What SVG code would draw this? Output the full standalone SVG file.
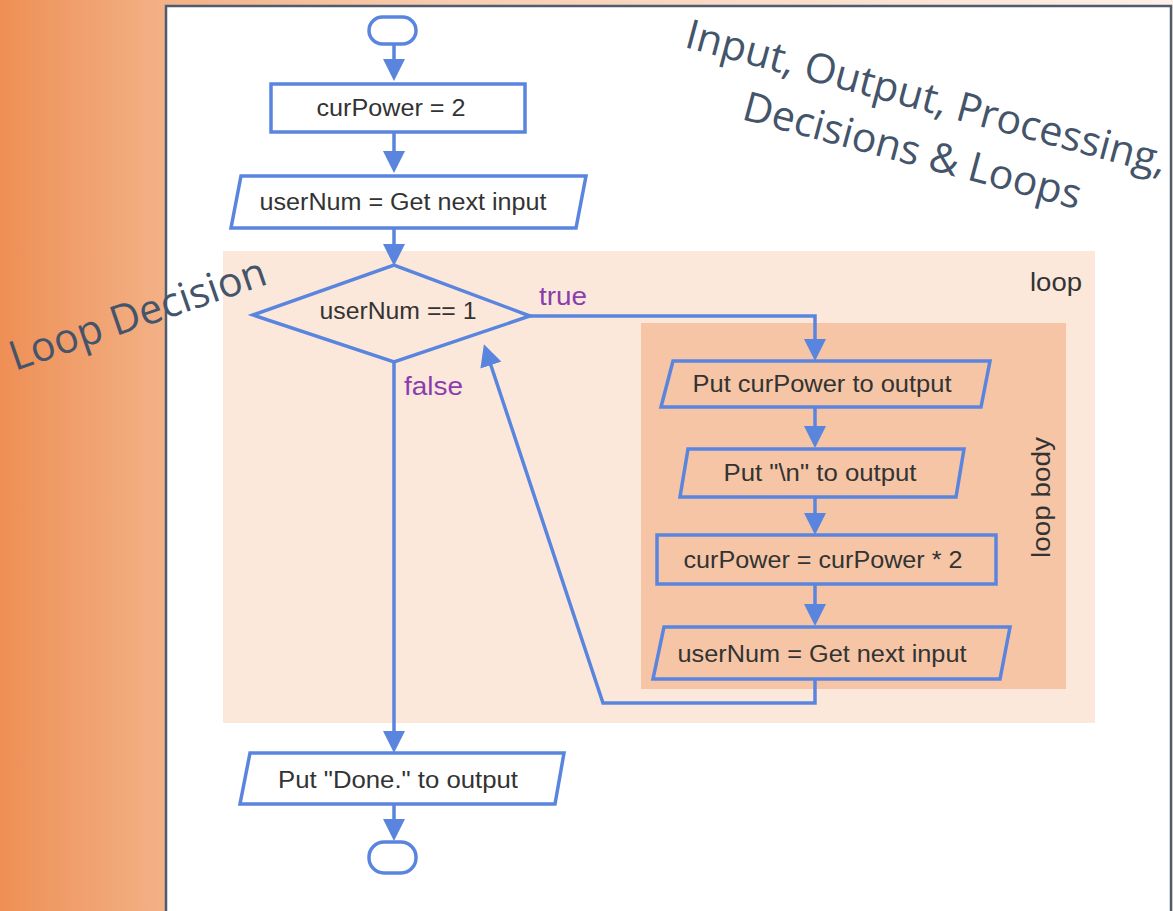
<svg xmlns="http://www.w3.org/2000/svg" width="1173" height="911" viewBox="0 0 1173 911">
  <defs>
    <linearGradient id="bg" x1="0" y1="0" x2="1" y2="0">
      <stop offset="0" stop-color="#EE8F55"/>
      <stop offset="0.14" stop-color="#F3B186"/>
      <stop offset="0.38" stop-color="#F8CDAF"/>
      <stop offset="1" stop-color="#FDF0E8"/>
    </linearGradient>
    <marker id="arrow" viewBox="0 0 22 22" refX="17" refY="11" markerWidth="22" markerHeight="22" markerUnits="userSpaceOnUse" orient="auto">
      <path d="M0,0 L22,11 L0,22 Z" fill="#5A85DF"/>
    </marker>
    <style>
      .shape { fill: none; stroke: #5A85DF; stroke-width: 3.5; stroke-linejoin: miter; }
      .edge { fill: none; stroke: #5A85DF; stroke-width: 3.5; marker-end: url(#arrow); }
      .lbl { font-family: "Liberation Sans", Arial, sans-serif; font-size: 23px; fill: #333333; text-anchor: middle; }
      .tag { font-family: "Liberation Sans", Arial, sans-serif; font-size: 26px; fill: #333333; }
      .cond { font-family: "Liberation Sans", Arial, sans-serif; font-size: 26px; fill: #8B3DAF; }
      .note { font-family: "Open Sans", "Noto Sans", sans-serif; font-size: 41px; fill: #44546A; }
    </style>
  </defs>

  <!-- slide background and white content panel -->
  <rect x="0" y="0" width="1173" height="911" fill="url(#bg)"/>
  <rect x="166" y="6" width="1005" height="930" fill="#FFFFFF" stroke="#4F5B6F" stroke-width="2.5"/>

  <!-- loop regions -->
  <rect id="loop" x="223" y="251" width="872" height="472" fill="#FBE8DA"/>
  <text class="tag" x="1030" y="291" textLength="52" lengthAdjust="spacingAndGlyphs">loop</text>
  <rect id="loop-body" x="641" y="323" width="425" height="366" fill="#F5C5A5"/>
  <text class="tag" transform="translate(1050,558) rotate(-90)" x="0" y="0" textLength="121" lengthAdjust="spacingAndGlyphs">loop body</text>

  <!-- connectors -->
  <g id="connectors">
    <line class="edge" x1="394" y1="44" x2="394" y2="76"/>
    <line class="edge" x1="394" y1="132" x2="394" y2="168"/>
    <line class="edge" x1="394" y1="228" x2="394" y2="261"/>
    <polyline class="edge" points="530,316 815,316 815,356"/>
    <text class="cond" x="539" y="305" textLength="48" lengthAdjust="spacingAndGlyphs">true</text>
    <line class="edge" x1="394" y1="362" x2="394" y2="748"/>
    <text class="cond" x="404" y="395" textLength="59" lengthAdjust="spacingAndGlyphs">false</text>
    <line class="edge" x1="815" y1="407" x2="815" y2="443"/>
    <line class="edge" x1="815" y1="497" x2="815" y2="530"/>
    <line class="edge" x1="815" y1="584" x2="815" y2="621"/>
    <polyline class="edge" points="815,679 815,703 603,703 485.5,349"/>
    <line class="edge" x1="394" y1="804" x2="394" y2="836"/>
  </g>

  <!-- flowchart nodes -->
  <g id="start">
    <rect class="shape" x="369" y="17" width="47" height="27" rx="13.5"/>
  </g>
  <g id="init">
    <rect class="shape" x="271" y="84" width="254" height="48"/>
    <text class="lbl" x="391" y="116" textLength="149" lengthAdjust="spacingAndGlyphs">curPower = 2</text>
  </g>
  <g id="read-first">
    <polygon class="shape" points="241,176 586,176 576,228 231,228"/>
    <text class="lbl" x="403" y="210" textLength="287" lengthAdjust="spacingAndGlyphs">userNum = Get next input</text>
  </g>
  <g id="decision">
    <polygon class="shape" points="253,315 394,265 530,316 394,362"/>
    <text class="lbl" x="398" y="319" textLength="157" lengthAdjust="spacingAndGlyphs">userNum == 1</text>
  </g>
  <g id="print-power">
    <polygon class="shape" points="673,361 990,361 981,407 661,407"/>
    <text class="lbl" x="822" y="392" textLength="259" lengthAdjust="spacingAndGlyphs">Put curPower to output</text>
  </g>
  <g id="print-newline">
    <polygon class="shape" points="688,449 964,449 956,497 680,497"/>
    <text class="lbl" x="820" y="481" textLength="193" lengthAdjust="spacingAndGlyphs">Put "\n" to output</text>
  </g>
  <g id="double">
    <rect class="shape" x="657" y="535" width="339" height="49"/>
    <text class="lbl" x="823" y="568" textLength="279" lengthAdjust="spacingAndGlyphs">curPower = curPower * 2</text>
  </g>
  <g id="read-next">
    <polygon class="shape" points="664,627 1010,627 1000,679 653,679"/>
    <text class="lbl" x="822" y="662" textLength="289" lengthAdjust="spacingAndGlyphs">userNum = Get next input</text>
  </g>
  <g id="print-done">
    <polygon class="shape" points="250,753 564,753 555,804 240,804"/>
    <text class="lbl" x="398" y="788" textLength="240" lengthAdjust="spacingAndGlyphs">Put "Done." to output</text>
  </g>
  <g id="end">
    <rect class="shape" x="369" y="842" width="47" height="31" rx="15"/>
  </g>

  <!-- callout captions -->
  <g id="caption-topic" transform="translate(923,111) rotate(15)">
    <text class="note" x="0" y="0" text-anchor="middle">Input, Output, Processing,</text>
    <text class="note" x="0" y="55" text-anchor="middle">Decisions &amp; Loops</text>
  </g>
  <g id="caption-decision">
    <text class="note" transform="translate(15,371) rotate(-19)" x="0" y="0">Loop Decision</text>
  </g>
</svg>
